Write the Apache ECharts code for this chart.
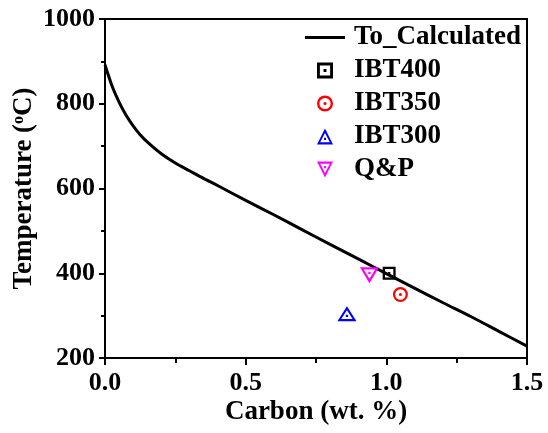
<!DOCTYPE html>
<html>
<head>
<meta charset="utf-8">
<script src="https://cdn.jsdelivr.net/npm/echarts@6/dist/echarts.min.js"></script>
<style>
  html, body { margin: 0; padding: 0; background: #fff; }
  #chart { width: 548px; height: 433px; }
</style>
</head>
<body>
<div id="chart"></div>
<script>
// Calculated T0 curve: carbon content (wt. %) vs temperature (°C)
const carbon = [0, 0.025, 0.05, 0.075, 0.1, 0.125, 0.15, 0.2, 0.25, 0.3, 0.35, 0.4,
                0.5, 0.6, 0.7, 0.8, 0.9, 1.0, 1.1, 1.2, 1.3, 1.4, 1.5];
const toTemp = [892, 842, 804, 773, 748, 727, 710, 682, 660, 642, 624, 607,
                572, 538, 503, 468, 434, 399, 365, 331, 298, 263, 228];

// Measured heat-treatment points [carbon, temperature]
const ibt400 = [[1.01, 400]];
const ibt350 = [[1.05, 350]];
const ibt300 = [[0.86, 300]];
const qp = [[0.94, 400]];

const seriesNames = ['To_Calculated', 'IBT400', 'IBT350', 'IBT300', 'Q&P'];
const xTicks = ['0.0', '0.5', '1.0', '1.5'];

// Hollow marker outlines with a centre dot (inner rings wound the other way)
const SQUARE = 'path://M0 0H100V100H0Z M18 18V82H82V18Z M41 41H59V59H41Z';
const CIRCLE = 'path://M50 0A50 50 0 1 1 50 100A50 50 0 1 1 50 0Z ' +
               'M50 15A35 35 0 1 0 50 85A35 35 0 1 0 50 15Z ' +
               'M50 40A10 10 0 1 1 50 60A10 10 0 1 1 50 40Z';
const TRI_UP = 'path://M50 0L100 100L0 100Z M50 28L20 86L80 86Z M44 58H56V72H44Z';
const TRI_DOWN = 'path://M0 0H100L50 100Z M20 14L50 72L80 14Z M44 28H56V42H44Z';
const LINE_ICON = 'path://M0 0H40V3H0Z';

const FONT = 'Liberation Serif';

const chart = echarts.init(document.getElementById('chart'));

const pairs = carbon.map((c, i) => [c, toTemp[i]]);

chart.setOption({
  backgroundColor: '#fff',
  animation: false,
  grid: {
    left: 105, right: 21, top: 19, bottom: 75,
    containLabel: false, outerBoundsMode: 'none',
    show: true, borderColor: '#000', borderWidth: 2
  },
  legend: {
    orient: 'vertical',
    left: 305, top: 24, padding: 0,
    itemWidth: 40, itemHeight: 16, itemGap: 6,
    data: [
      { name: seriesNames[0], icon: LINE_ICON },
      seriesNames[1], seriesNames[2], seriesNames[3], seriesNames[4]
    ],
    textStyle: { fontFamily: FONT, fontWeight: 'bold', fontSize: 27, color: '#000', padding: [0, 0, 0, 4] }
  },
  xAxis: {
    type: 'value', min: 0, max: 1.5, interval: 0.5,
    name: 'Carbon (wt. %)', nameLocation: 'middle', nameGap: 41, nameMoveOverlap: false,
    nameTextStyle: { fontFamily: FONT, fontWeight: 'bold', fontSize: 27, color: '#000' },
    axisLine: { show: true, lineStyle: { color: '#000', width: 2 } },
    axisTick: { show: true, inside: false, length: 7, lineStyle: { color: '#000', width: 2 } },
    minorTick: { show: true, splitNumber: 2, length: 5, lineStyle: { color: '#000', width: 2 } },
    splitLine: { show: false },
    axisLabel: {
      margin: 12, fontFamily: FONT, fontWeight: 'bold', fontSize: 26, color: '#000',
      formatter: (v) => xTicks[Math.round(v / 0.5)]
    }
  },
  yAxis: {
    type: 'value', min: 200, max: 1000, interval: 200,
    name: '{a|Temperature (}{b|o}{a|C)}', nameLocation: 'middle', nameGap: 67, nameMoveOverlap: false,
    nameTextStyle: {
      rich: {
        a: { fontFamily: FONT, fontWeight: 'bold', fontSize: 27, color: '#000' },
        b: { fontFamily: FONT, fontWeight: 'bold', fontSize: 16, color: '#000', verticalAlign: 'top', padding: [0, 0, 10, 0] }
      }
    },
    axisLine: { show: true, lineStyle: { color: '#000', width: 2 } },
    axisTick: { show: true, inside: false, length: 6, lineStyle: { color: '#000', width: 2 } },
    minorTick: { show: true, splitNumber: 2, length: 4, lineStyle: { color: '#000', width: 2 } },
    splitLine: { show: false },
    axisLabel: {
      margin: 10, fontFamily: FONT, fontWeight: 'bold', fontSize: 26, color: '#000',
      formatter: (v) => String(v)
    }
  },
  series: [
    {
      name: seriesNames[0], type: 'line', data: pairs, smooth: 0.3,
      symbol: 'none', lineStyle: { color: '#000', width: 3 }, itemStyle: { color: '#000' }, z: 2
    },
    {
      name: seriesNames[1], type: 'scatter', data: ibt400, symbol: SQUARE, symbolSize: [13, 13],
      itemStyle: { color: '#000', opacity: 1 }, z: 3
    },
    {
      name: seriesNames[2], type: 'scatter', data: ibt350, symbol: CIRCLE, symbolSize: [15, 15],
      itemStyle: { color: '#ff0000', opacity: 1 }, z: 3
    },
    {
      name: seriesNames[3], type: 'scatter', data: ibt300, symbol: TRI_UP, symbolSize: [19, 15],
      symbolOffset: [0, -2], itemStyle: { color: '#0000ff', opacity: 1 }, z: 3
    },
    {
      name: seriesNames[4], type: 'scatter', data: qp, symbol: TRI_DOWN, symbolSize: [19, 16],
      symbolOffset: [0, 2], itemStyle: { color: '#ff00ff', opacity: 1 }, z: 3
    }
  ]
});
</script>
</body>
</html>
